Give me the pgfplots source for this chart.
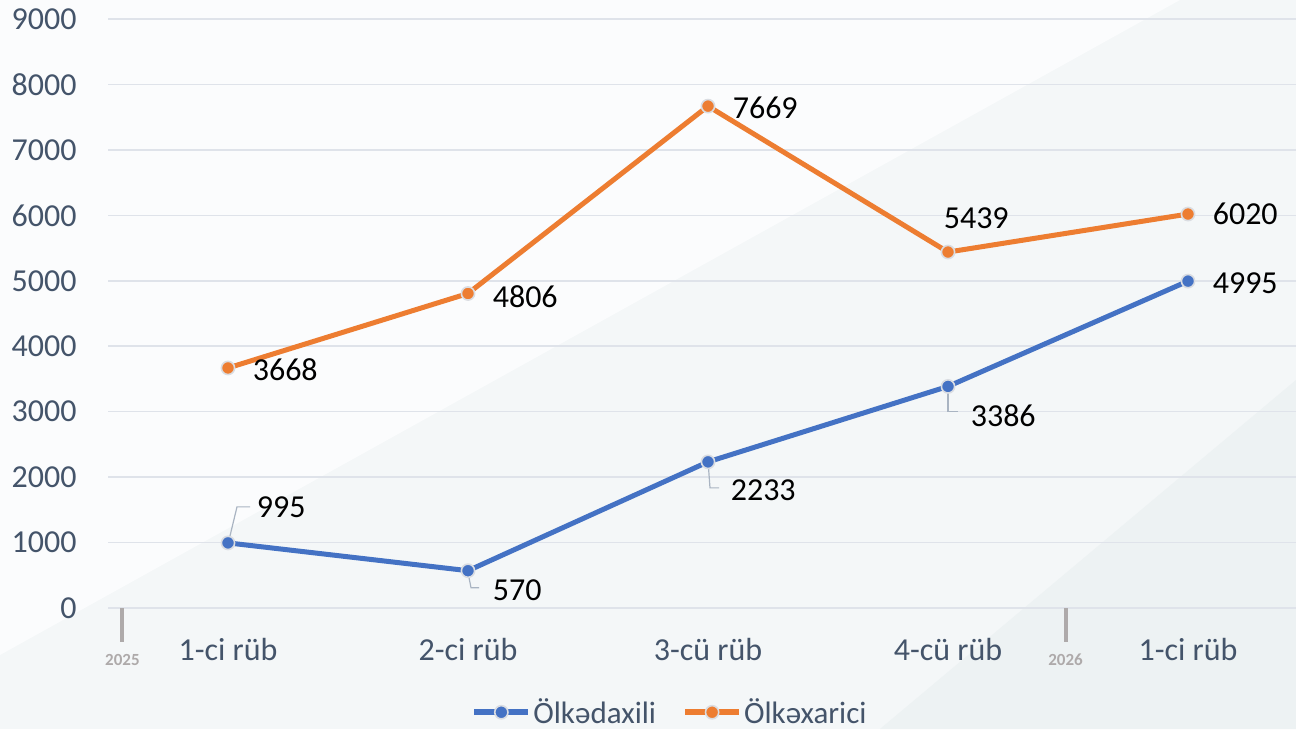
\documentclass[border=0pt]{standalone}
\usepackage{fontspec}
\setmainfont{Carlito}
\usepackage{pgfplots}
\pgfplotsset{compat=1.18}
\usepackage{pgfplotstable}
\definecolor{blueS}{HTML}{4472C4}
\definecolor{orangeS}{HTML}{ED7D31}
\definecolor{tickc}{HTML}{44546A}
\definecolor{gridc}{HTML}{DFE3EA}
\definecolor{yearc}{HTML}{AEAAAA}
\definecolor{leadc}{HTML}{A9B4C2}
\definecolor{ringc}{HTML}{DADDE2}
\definecolor{bgA}{HTML}{FBFCFD}
\definecolor{bgB}{HTML}{F4F7F8}
\definecolor{bgC}{HTML}{EDF2F3}

\pgfplotstableread{
x y dx dy
0 995 14 18
1 570 12 -10
2 2233 11 -14
3 3386 11 -14.5
4 4995 12 -1
}\dom
\pgfplotstableread{
x y dx dy
0 3668 12 -1
1 4806 12 -1.5
2 7669 12 -1
3 5439 -2.5 17
4 6020 12 0
}\ext

\begin{document}
\begin{tikzpicture}
\path[use as bounding box] (0,0) rectangle (648pt,364.5pt);
\fill[bgB] (0,0) rectangle (648pt,364.5pt);
\fill[bgA] (0,37pt) -- (590pt,364.5pt) -- (0,364.5pt) -- cycle;
\fill[bgC] (648pt,174.5pt) -- (440pt,0) -- (648pt,0) -- cycle;
\begin{axis}[
  at={(54pt,60.5pt)}, anchor=south west,
  scale only axis, width=594pt, height=294.5pt,
  xmin=-0.5, xmax=4.45, ymin=0, ymax=9000,
  clip=false,
  axis line style={draw=none},
  major tick length=0pt,
  ymajorgrids, grid style={gridc, line width=0.8pt},
  xtick={0,1,2,3,4},
  xticklabels={1-ci rüb,2-ci rüb,3-cü rüb,4-cü rüb,1-ci rüb},
  ytick={0,1000,...,9000},
  scaled y ticks=false,
  /pgf/number format/1000 sep={},
  /pgf/number format/assume math mode=true,
  tick label style={font=\fontsize{16}{19}\selectfont, text=tickc, inner sep=0pt},
  y tick label style={anchor=east, xshift=-15.5pt},
  x tick label style={anchor=base, yshift=-26pt},
  legend style={at={(0.473,-0.177)}, anchor=center, draw=none, fill=none,
    legend columns=2, font=\fontsize{15.5}{18}\selectfont, text=tickc,
    /tikz/every even column/.append style={column sep=12pt},
    inner sep=0pt, nodes={inner sep=1pt}},
  legend image code/.code={\draw[mark repeat=2,mark phase=2,#1, line width=3pt] plot coordinates {(0pt,0pt) (13.5pt,0pt) (27pt,0pt)};},
  visualization depends on={\thisrow{dx} \as \dx},
  visualization depends on={\thisrow{dy} \as \dy},
  nodes near coords,
  nodes near coords style={anchor=west, xshift=\dx pt, yshift=\dy pt, text=black, font=\fontsize{16}{19}\selectfont, inner sep=0pt},
]
% leader lines
\draw[leadc, line width=0.6pt] (axis cs:0,995) ++(1pt,3.5pt) -- ++(3.5pt,14.5pt) -- ++(6.5pt,0pt);
\draw[leadc, line width=0.6pt] (axis cs:1,570) ++(0.5pt,-3.5pt) -- ++(1pt,-5pt) -- ++(4pt,0pt);
\draw[leadc, line width=0.6pt] (axis cs:2,2233) ++(0.3pt,-3.5pt) -- ++(0.7pt,-9.5pt) -- ++(4.5pt,0pt);
\draw[leadc, line width=0.6pt] (axis cs:3,3386) ++(0pt,-3.5pt) -- ++(0pt,-9pt) -- ++(5pt,0pt);
% year markers
\draw[yearc, line width=2pt] (axis cs:-0.44,0) -- ++(0pt,-17pt)
  node[below, inner sep=0pt, yshift=-5pt, font=\fontsize{8.5}{10}\selectfont\bfseries] {2025};
\draw[yearc, line width=2pt] (axis cs:3.49,0) -- ++(0pt,-17pt)
  node[below, inner sep=0pt, yshift=-5pt, font=\fontsize{8.5}{10}\selectfont\bfseries] {2026};

\addplot[blueS, line width=2.5pt, mark=*, mark size=3.3pt,
  mark options={draw=ringc, line width=0.8pt, fill=blueS}]
  table[x=x, y=y] {\dom};
\addlegendentry{Ölkədaxili}
\addplot[orangeS, line width=2.5pt, mark=*, mark size=3.3pt,
  mark options={draw=ringc, line width=0.8pt, fill=orangeS}]
  table[x=x, y=y] {\ext};
\addlegendentry{Ölkəxarici}
\end{axis}
\end{tikzpicture}
\end{document}
